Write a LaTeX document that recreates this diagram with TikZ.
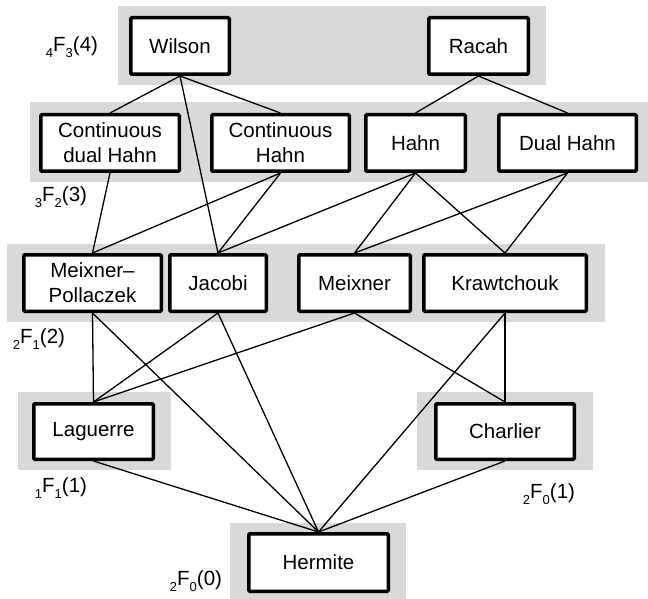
\documentclass[tikz,border=0pt]{standalone}
\usepackage{fontspec}
\setmainfont{Liberation Sans}
\definecolor{bandgray}{RGB}{217,217,217}
\pgfdeclarelayer{bands}
\pgfdeclarelayer{links}
\pgfsetlayers{bands,links,main}
\newcommand\presub[1]{\raisebox{-0.3em}{\fontsize{13}{13}\selectfont #1}}
\newcommand\postsub[1]{\raisebox{-0.3em}{\fontsize{13}{13}\selectfont #1}}
\tikzset{
  family/.style={draw, line width=3.5pt, fill=white, inner sep=0pt, align=center,
    font=\fontsize{20.5}{25}\selectfont, rounded corners=1pt, minimum height=56.5pt},
  band/.style={fill=bandgray, draw=none},
  link/.style={line width=1.3pt},
  lvl/.style={font=\fontsize{20.5}{25}\selectfont, inner sep=0pt}
}
\begin{document}
\begin{tikzpicture}[x=1pt, y=-1pt]
\useasboundingbox (0,0) rectangle (648,599);
% bands
\begin{pgfonlayer}{bands}
\fill[band] (118,6) rectangle (546,85);
\fill[band] (30,102) rectangle (648,182);
\fill[band] (7,244) rectangle (605,322);
\fill[band] (18,392) rectangle (171,470);
\fill[band] (417,392) rectangle (593,470);
\fill[band] (230,523) rectangle (406,599);
\end{pgfonlayer}
% boxes
\begin{scope}[every node/.style={family}]
\path
 (180,46)    node[minimum width=98.5pt]  (wil) {Wilson}
 (478.5,46)  node[minimum width=99.5pt]  (rac) {Racah}
 (110,143)   node[minimum width=138.5pt] (cdh) {Continuous\\dual Hahn}
 (280.5,143) node[minimum width=137.5pt] (ch)  {Continuous\\Hahn}
 (415.5,143) node[minimum width=99.5pt]  (hah) {Hahn}
 (567.5,143) node[minimum width=137.5pt] (dh)  {Dual Hahn}
 (92.5,283)  node[minimum width=137.5pt] (mp)  {Meixner–\\Pollaczek}
 (218,283)   node[minimum width=96.5pt]  (jac) {Jacobi}
 (354.5,283) node[minimum width=111.5pt] (mei) {Meixner}
 (505,283)   node[minimum width=162.5pt] (kra) {Krawtchouk}
 (93.5,431.5) node[minimum width=119.5pt, minimum height=55.5pt] (lag) {Laguerre}
 (505,431.5) node[minimum width=138.5pt, minimum height=55.5pt] (cha) {Charlier}
 (318.5,562.5) node[minimum width=139.5pt, minimum height=57.5pt] (her) {Hermite};
\end{scope}
% links
\begin{pgfonlayer}{links}
\begin{scope}[link]
\draw (wil.south) -- (cdh.north);
\draw (wil.south) -- (ch.north);
\draw (wil.south) -- (jac.north);
\draw (rac.south) -- (hah.north);
\draw (rac.south) -- (dh.north);
\draw (cdh.south) -- (mp.north);
\draw (ch.south) -- (mp.north);
\draw (ch.south) -- (jac.north);
\draw (hah.south) -- (jac.north);
\draw (hah.south) -- (mei.north);
\draw (hah.south) -- (kra.north);
\draw (dh.south) -- (mei.north);
\draw (dh.south) -- (kra.north);
\draw (mp.south) -- (lag.north);
\draw (mp.south) -- (her.north);
\draw (jac.south) -- (lag.north);
\draw (jac.south) -- (her.north);
\draw (mei.south) -- (lag.north);
\draw (mei.south) -- (cha.north);
\draw (kra.south) -- (cha.north);
\draw (kra.south) -- (her.north);
\draw (lag.south) -- (her.north);
\draw (cha.south) -- (her.north);
\end{scope}
\end{pgfonlayer}
% level labels
\node[lvl] (l4) at (72,47) {\presub{4}F\postsub{3}(4)};
\node[lvl] (l3) at (61,197) {\presub{3}F\postsub{2}(3)};
\node[lvl] (l2) at (39,339) {\presub{2}F\postsub{1}(2)};
\node[lvl] (l1) at (61,488) {\presub{1}F\postsub{1}(1)};
\node[lvl] (l0r) at (549,494) {\presub{2}F\postsub{0}(1)};
\node[lvl] (l0) at (196,581) {\presub{2}F\postsub{0}(0)};
\end{tikzpicture}
\end{document}
